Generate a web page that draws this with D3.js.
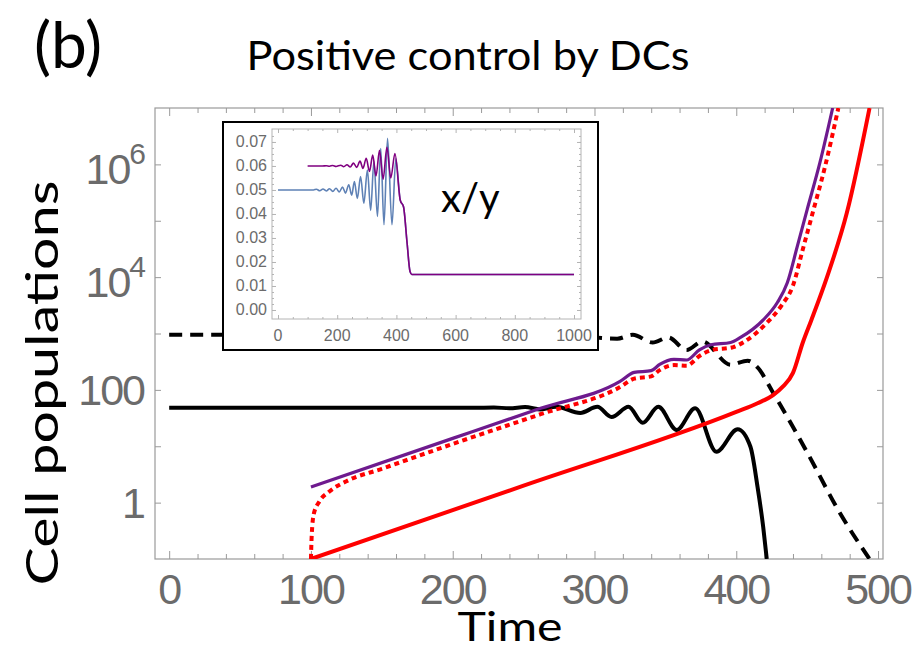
<!DOCTYPE html>
<html>
<head>
<meta charset="utf-8">
<script src="https://cdn.jsdelivr.net/npm/d3@7"></script>
<style>
  body { margin: 0; background: #fff; }
  svg { display: block; }
</style>
</head>
<body>
<svg id="chart" width="918" height="652"></svg>
<script>
// main panel: cell populations vs time (log y)
var tDash = [0, 280, 292, 305, 316, 327, 341, 352, 365, 376, 396, 408, 415, 426, 450, 473, 494];
var vDash = [950, 950, 910, 830, 810, 950, 690, 850, 510, 720, 280, 330, 250, 89, 7.8, 0.66, 0.1];

var tSolid = [0, 215, 229, 240, 251, 262, 273, 290, 302, 312, 324, 334, 345, 358, 371, 386, 401, 410, 415, 419, 421.5];
var vSolid = [48, 48, 48.6, 47.3, 49.5, 45, 50, 39, 50, 33, 50, 26, 50, 19.5, 47, 8, 20, 9.8, 1.9, 0.37, 0.1];

var tPurple = [100, 200, 262, 318, 328, 340, 346, 356, 365, 374, 382, 396, 403, 419, 429, 436, 443, 450, 459, 468];
var vPurple = [1.9, 13.8, 47, 141, 204, 219, 282, 347, 339, 513, 631, 692, 851, 1740, 3550, 7940, 34700, 158000, 1070000, 1e7];

var tRedDash = [100, 100.5, 102, 106, 113, 125, 150, 200, 262, 318, 328, 340, 346, 356, 365, 374, 382, 398, 406, 422, 432, 440, 447, 454, 463, 472];
var vRedDash = [0.1, 0.25, 0.63, 1.05, 1.58, 2.4, 3.98, 11, 37, 112, 158, 174, 224, 275, 269, 398, 501, 575, 724, 1585, 3162, 7079, 31600, 141000, 1000000, 1e7];

var tRed = [100, 250, 400, 415, 426, 433, 440, 447, 453, 464, 478, 494];
var vRed = [0.1, 2.0, 40.7, 58, 81, 115, 200, 700, 1740, 10000, 138000, 1e7];

var xTicks = [0, 100, 200, 300, 400, 500];
var yTicks = [1, 100, 1e4, 1e6];
var yTickBase = ['1', '100', '10', '10'];
var yTickExp = ['', '', '4', '6'];

// inset: x/y ratio
var tBlue = [0, 120, 130, 141, 152, 163, 174, 185, 196, 207, 218, 228, 239, 249, 258, 268, 279, 290, 302, 313, 324, 336, 347, 358, 370, 385, 398, 413, 424, 436, 446, 452, 1000];
var vBlue = [0.05, 0.05, 0.0503, 0.0497, 0.0504, 0.0496, 0.0505, 0.0494, 0.0507, 0.0492, 0.0512, 0.0487, 0.0522, 0.0478, 0.0535, 0.0465, 0.0556, 0.0445, 0.0583, 0.0415, 0.0618, 0.039, 0.0673, 0.0355, 0.0715, 0.0355, 0.063, 0.0457, 0.043, 0.028, 0.016, 0.0148, 0.0148];

var tViolet = [100, 150, 163, 174, 185, 196, 212, 222, 233, 244, 255, 266, 277, 287, 298, 309, 320, 331, 343, 355, 368, 381, 395, 413, 424, 436, 446, 452, 1000];
var vViolet = [0.06, 0.06, 0.0601, 0.0599, 0.0602, 0.0598, 0.0603, 0.0597, 0.0605, 0.0596, 0.0612, 0.0594, 0.062, 0.059, 0.0632, 0.0577, 0.0645, 0.0558, 0.0665, 0.0545, 0.0678, 0.055, 0.0652, 0.0457, 0.043, 0.028, 0.016, 0.0148, 0.0148];

var insetXTicks = [0, 200, 400, 600, 800, 1000];
var insetYTicks = [0, 0.01, 0.02, 0.03, 0.04, 0.05, 0.06, 0.07];

var svg = d3.select('#chart');
var frameColor = '#9a9a9a';
var labelColor = '#6b6b6b';
var textFont = 'Lato, "Open Sans", sans-serif';
var tickFont = '"Liberation Sans", Arial, sans-serif';

function zip(ts, vs) {
  return ts.map(function (t, i) { return [t, vs[i]]; });
}

var x = d3.scaleLinear().domain([-10, 503.5]).range([155, 883]);
var y = d3.scaleLog().domain([0.1, 1e7]).range([559, 108]);

// titles
svg.append('text').attr('x', 34).attr('y', 68)
  .style('font-family', textFont).style('font-size', '64px')
  .text('(b)');
svg.append('text').attr('x', 468).attr('y', 70).attr('text-anchor', 'middle')
  .attr('textLength', 443).attr('lengthAdjust', 'spacingAndGlyphs')
  .style('font-family', textFont).style('font-size', '41px')
  .text('Positive control by DCs');
svg.append('text').attr('x', 510).attr('y', 641).attr('text-anchor', 'middle')
  .attr('textLength', 105).attr('lengthAdjust', 'spacingAndGlyphs')
  .style('font-family', textFont).style('font-size', '40px')
  .text('Time');
svg.append('text').attr('transform', 'translate(58,383) rotate(-90)').attr('text-anchor', 'middle')
  .attr('textLength', 405).attr('lengthAdjust', 'spacingAndGlyphs')
  .style('font-family', textFont).style('font-size', '44px')
  .text('Cell populations');

// frame ticks
function styleAxis(sel) {
  sel.select('.domain').remove();
  sel.selectAll('line').attr('stroke', frameColor);
}
var minorX = d3.range(0, 501, 20).filter(function (d) { return d % 100; });
var yDecades = [1, 10, 100, 1e3, 1e4, 1e5, 1e6];

svg.append('g').attr('transform', 'translate(0,559)')
  .call(d3.axisBottom(x).tickValues(xTicks).tickSize(-8).tickFormat('')).call(styleAxis);
svg.append('g').attr('transform', 'translate(0,559)')
  .call(d3.axisBottom(x).tickValues(minorX).tickSize(-5).tickFormat('')).call(styleAxis);
svg.append('g').attr('transform', 'translate(0,108)')
  .call(d3.axisTop(x).tickValues(xTicks).tickSize(-8).tickFormat('')).call(styleAxis);
svg.append('g').attr('transform', 'translate(0,108)')
  .call(d3.axisTop(x).tickValues(minorX).tickSize(-5).tickFormat('')).call(styleAxis);
svg.append('g').attr('transform', 'translate(155,0)')
  .call(d3.axisLeft(y).tickValues(yDecades).tickSize(-6).tickFormat('')).call(styleAxis);
svg.append('g').attr('transform', 'translate(883,0)')
  .call(d3.axisRight(y).tickValues(yDecades).tickSize(-6).tickFormat('')).call(styleAxis);

svg.append('rect').attr('x', 155).attr('y', 108).attr('width', 728).attr('height', 451)
  .attr('fill', 'none').attr('stroke', frameColor).attr('stroke-width', 1.2);

// tick labels
svg.append('g').selectAll('text').data(xTicks).enter().append('text')
  .attr('x', function (d) { return x(d); }).attr('y', 604).attr('text-anchor', 'middle')
  .style('font-family', tickFont).style('font-size', '43px')
  .style('letter-spacing', '-2px').attr('fill', labelColor)
  .text(function (d) { return d; });

var yl = svg.append('g').selectAll('text').data(yTicks).enter().append('text')
  .attr('x', 144).attr('text-anchor', 'end')
  .attr('y', function (d, i) { return y(d) + (yTickExp[i] ? 20 : 15.5); })
  .style('font-family', tickFont).style('font-size', '43px')
  .style('letter-spacing', '-2px').attr('fill', labelColor);
yl.append('tspan').text(function (d, i) { return yTickBase[i]; });
yl.append('tspan').attr('dy', -20).style('font-size', '30px')
  .text(function (d, i) { return yTickExp[i]; });

// curves
svg.append('clipPath').attr('id', 'plot-clip').append('rect')
  .attr('x', 155).attr('y', 108).attr('width', 728).attr('height', 451);

var line = d3.line().x(function (d) { return x(d[0]); }).y(function (d) { return y(d[1]); })
  .curve(d3.curveMonotoneX);

var curves = svg.append('g').attr('clip-path', 'url(#plot-clip)').attr('fill', 'none');
curves.append('path').datum(zip(tDash, vDash)).attr('d', line)
  .attr('stroke', '#000').attr('stroke-width', 4).attr('stroke-dasharray', '13,8');
curves.append('path').datum(zip(tSolid, vSolid)).attr('d', line)
  .attr('stroke', '#000').attr('stroke-width', 4);
curves.append('path').datum(zip(tRed, vRed)).attr('d', line)
  .attr('stroke', '#ff0000').attr('stroke-width', 4);
curves.append('path').datum(zip(tRedDash, vRedDash)).attr('d', line)
  .attr('stroke', '#ff0000').attr('stroke-width', 4).attr('stroke-dasharray', '5,4');
curves.append('path').datum(zip(tPurple, vPurple)).attr('d', line)
  .attr('stroke', '#6e1a8e').attr('stroke-width', 3.2);

// inset
var xi = d3.scaleLinear().domain([-20.3, 1023.6]).range([272, 581]);
var yi = d3.scaleLinear().domain([-0.00375, 0.0754]).range([319, 129]);

svg.append('rect').attr('x', 223).attr('y', 122).attr('width', 375).attr('height', 228)
  .attr('fill', '#fff').attr('stroke', '#000').attr('stroke-width', 2);

var insetMinorX = d3.range(0, 1001, 50).filter(function (d) { return d % 200; });
var insetMinorY = d3.range(0, 0.0741, 0.0025);
var insetColor = '#b4b4b4';
function styleInset(sel) {
  sel.select('.domain').remove();
  sel.selectAll('line').attr('stroke', insetColor);
}
svg.append('g').attr('transform', 'translate(0,319)')
  .call(d3.axisBottom(xi).tickValues(insetXTicks).tickSize(-4).tickFormat('')).call(styleInset);
svg.append('g').attr('transform', 'translate(0,319)')
  .call(d3.axisBottom(xi).tickValues(insetMinorX).tickSize(-2).tickFormat('')).call(styleInset);
svg.append('g').attr('transform', 'translate(0,129)')
  .call(d3.axisTop(xi).tickValues(insetXTicks).tickSize(-4).tickFormat('')).call(styleInset);
svg.append('g').attr('transform', 'translate(0,129)')
  .call(d3.axisTop(xi).tickValues(insetMinorX).tickSize(-2).tickFormat('')).call(styleInset);
svg.append('g').attr('transform', 'translate(272,0)')
  .call(d3.axisLeft(yi).tickValues(insetYTicks).tickSize(-4).tickFormat('')).call(styleInset);
svg.append('g').attr('transform', 'translate(272,0)')
  .call(d3.axisLeft(yi).tickValues(insetMinorY).tickSize(-2).tickFormat('')).call(styleInset);
svg.append('g').attr('transform', 'translate(581,0)')
  .call(d3.axisRight(yi).tickValues(insetYTicks).tickSize(-4).tickFormat('')).call(styleInset);
svg.append('g').attr('transform', 'translate(581,0)')
  .call(d3.axisRight(yi).tickValues(insetMinorY).tickSize(-2).tickFormat('')).call(styleInset);
svg.append('rect').attr('x', 272).attr('y', 129).attr('width', 309).attr('height', 190)
  .attr('fill', 'none').attr('stroke', insetColor).attr('stroke-width', 1);

svg.append('g').selectAll('text').data(insetXTicks).enter().append('text')
  .attr('x', function (d) { return xi(d); }).attr('y', 341).attr('text-anchor', 'middle')
  .style('font-family', tickFont).style('font-size', '16px')
  .attr('fill', labelColor).text(function (d) { return d; });
svg.append('g').selectAll('text').data(insetYTicks).enter().append('text')
  .attr('x', 267).attr('y', function (d) { return yi(d) + 5.5; }).attr('text-anchor', 'end')
  .style('font-family', tickFont).style('font-size', '16px')
  .attr('fill', labelColor).text(function (d) { return d3.format('.2f')(d); });

var lineI = d3.line().x(function (d) { return xi(d[0]); }).y(function (d) { return yi(d[1]); })
  .curve(d3.curveMonotoneX);
svg.append('path').datum(zip(tBlue, vBlue)).attr('d', lineI)
  .attr('fill', 'none').attr('stroke', '#5e81b5').attr('stroke-width', 1.6);
svg.append('path').datum(zip(tViolet, vViolet)).attr('d', lineI)
  .attr('fill', 'none').attr('stroke', '#800080').attr('stroke-width', 1.6);

svg.append('text').attr('x', 441).attr('y', 212)
  .style('font-family', textFont).style('font-size', '40px')
  .text('x/y');
</script>
</body>
</html>
